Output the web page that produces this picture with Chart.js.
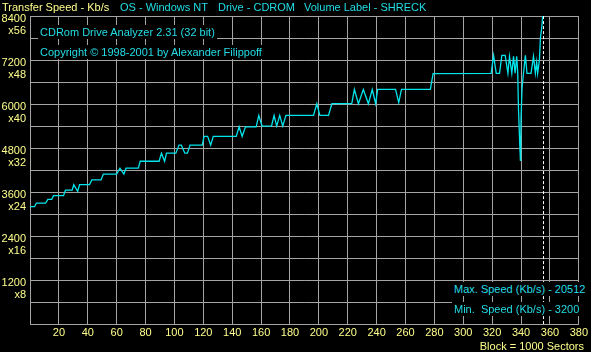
<!DOCTYPE html>
<html>
<head>
<meta charset="utf-8">
<title>CDRom Drive Analyzer - Transfer Speed</title>
<script src="https://cdn.jsdelivr.net/npm/chart.js@4.4.1/dist/chart.umd.min.js"></script>
<style>
  html, body { margin: 0; padding: 0; background: #000; }
  #wrap { position: relative; width: 591px; height: 352px; overflow: hidden; background: #000; }
  #wrap canvas { position: absolute; left: 0; top: 0; }
  .lbl {
    position: absolute;
    font: 11px "Liberation Sans", Arial, sans-serif;
    line-height: 12px;
    white-space: pre;
    color: #22dde6;
  }
  .yel { color: #ffff8c; }
  .box { background: #000; padding: 1px 2px; }
</style>
</head>
<body>
<div id="wrap">
  <canvas id="speedChart" width="591" height="352"></canvas>

  <div class="lbl yel" style="left:2px; top:1px">Transfer Speed - Kb/s</div>
  <div class="lbl" style="left:120px; top:1px">OS - Windows NT</div>
  <div class="lbl" style="left:218px; top:1px">Drive - CDROM</div>
  <div class="lbl" style="left:304px; top:1px">Volume Label - SHRECK</div>

  <div class="lbl box" style="left:38px; top:25px">CDRom Drive Analyzer 2.31 (32 bit)</div>
  <div class="lbl box" style="left:38px; top:45px">Copyright © 1998-2001 by Alexander Filippoff</div>

  <div class="lbl box" style="left:452px; top:282px">Max. Speed (Kb/s) - 20512</div>
  <div class="lbl box" style="left:452px; top:302px">Min.  Speed (Kb/s) - 3200</div>

  <div class="lbl yel" style="right:7px; top:340px">Block = 1000 Sectors</div>
</div>

<script>
// transfer speed, at the blocks where the trace turns
const blocks = [
    0, 3.2, 4.4, 10.8, 12.4, 15, 16.3, 23.2, 24.6, 29.2,
    30.3, 33, 34.3, 41.2, 42.8, 49.2, 50.8, 60, 62.3, 65,
    66.5, 75, 76.3, 89.4, 91, 93.2, 94.5, 101, 103.2, 104.8,
    107.2, 109, 110.8, 119.3, 120.5, 123, 125.1, 126.9, 142.8, 144.8,
    146.9, 149.2, 156.6, 158.4, 160.7, 167.2, 169, 170.8, 172.9, 175,
    177.2, 196.3, 198.6, 200.7, 206.7, 209, 222.8, 224.6, 227.4, 230.8,
    234.3, 237, 239.3, 240.7, 253.1, 255.3, 257.2, 277.2, 279.1, 319.3,
    321, 322.8, 325.1, 326.7, 329, 330.9, 332, 333.6, 334.8, 335.9,
    337, 337.7, 338.2, 339.1, 339.6, 340, 340.7, 341.7, 343, 344.1,
    346.9, 348.6, 349.9, 350.8, 351.5, 352.7, 353.4, 354.3, 355, 355.7
];
const speeds = [
    3200, 3200, 3300, 3300, 3400, 3400, 3500, 3500, 3650, 3650,
    3800, 3620, 3800, 3800, 3930, 3930, 4090, 4090, 4250, 4090,
    4250, 4250, 4440, 4440, 4660, 4440, 4660, 4660, 4880, 4880,
    4660, 4660, 4880, 4880, 5120, 5120, 4880, 5120, 5120, 5380,
    5120, 5380, 5380, 5690, 5400, 5400, 5690, 5400, 5690, 5400,
    5690, 5690, 6010, 5690, 5690, 6010, 6010, 6400, 6010, 6400,
    6010, 6400, 6010, 6400, 6400, 6040, 6400, 6400, 6830, 6840,
    7330, 6840, 6840, 7330, 7330, 6840, 7300, 6840, 7300, 6840,
    7300, 6840, 5900, 4900, 4450, 5630, 6440, 6840, 7330, 6840,
    6840, 7300, 6840, 7150, 6840, 7200, 7800, 8070, 8400, 20512
];

// y axis: labelled every 1200 Kb/s, with the CD speed factor underneath
const speedTicks = [1200, 2400, 3600, 4800, 6000, 7200, 8400];
const speedFactors = ['x8', 'x16', 'x24', 'x32', 'x40', 'x48', 'x56'];

const lastBlock = 355.2;   // where the dashed end marker sits

const yellow = '#ffff8c';
const cyan = '#00e4ec';
const gridGray = '#a4a4a4';
const tickFont = { family: '"Liberation Sans", Arial, sans-serif', size: 11, lineHeight: 1.1 };

// dashed white line at the end of the disc
const endMarker = {
    id: 'endMarker',
    afterDatasetsDraw(chart) {
        const { ctx, chartArea, scales } = chart;
        const x = Math.round(scales.x.getPixelForValue(lastBlock)) + 0.5;
        ctx.save();
        ctx.strokeStyle = '#ffffff';
        ctx.lineWidth = 1;
        ctx.setLineDash([3, 2]);
        ctx.beginPath();
        ctx.moveTo(x, chartArea.top);
        ctx.lineTo(x, chartArea.bottom);
        ctx.stroke();
        ctx.restore();
    }
};

const ctx = document.getElementById('speedChart').getContext('2d');

new Chart(ctx, {
    type: 'line',
    data: {
        datasets: [{
            data: blocks.map((b, i) => ({ x: b, y: speeds[i] })),
            borderColor: cyan,
            borderWidth: 1.3,
            pointRadius: 0,
            tension: 0,
            fill: false
        }]
    },
    options: {
        responsive: false,
        animation: false,
        devicePixelRatio: 1,
        layout: { padding: { top: 15, right: 10, left: 0, bottom: 0 } },
        plugins: {
            legend: { display: false },
            tooltip: { enabled: false }
        },
        scales: {
            x: {
                type: 'linear',
                min: 0,
                max: 380,
                afterFit: (scale) => { scale.height = 28; },
                ticks: {
                    stepSize: 20,
                    autoSkip: false,
                    maxRotation: 0,
                    padding: 3,
                    color: yellow,
                    font: tickFont,
                    callback: (v) => (v === 0 ? '' : String(v))
                },
                grid: { color: gridGray, drawTicks: false },
                border: { color: gridGray }
            },
            y: {
                min: 0,
                max: 8400,
                afterFit: (scale) => { scale.width = 30; },
                ticks: {
                    stepSize: 600,
                    autoSkip: false,
                    padding: 4,
                    labelOffset: 9,
                    color: yellow,
                    font: tickFont,
                    callback: (v) => {
                        const i = speedTicks.indexOf(v);
                        return i < 0 ? '' : [String(v), speedFactors[i]];
                    }
                },
                grid: { color: gridGray, drawTicks: false },
                border: { color: gridGray }
            }
        }
    },
    plugins: [endMarker]
});
</script>
</body>
</html>
